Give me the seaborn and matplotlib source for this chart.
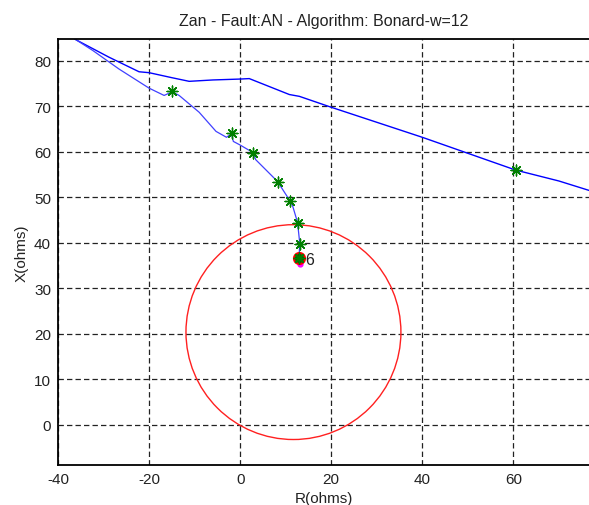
import matplotlib
matplotlib.use("Agg")
import matplotlib.pyplot as plt
import seaborn as sns
import pandas as pd
from matplotlib.patches import Circle

# ---- data ----
upper_r = [-38, -36, -28.8, -22.2, -20, -15, -11.2, -6, 0, 2, 10.8, 13, 20, 40, 60.5, 70, 78]
upper_x = [86, 84.6, 80.8, 77.6, 77.4, 76.3, 75.5, 75.8, 76.0, 76.1, 72.6, 72.2, 69.8, 63.2, 56.0, 53.6, 51.1]

lower_r = [-38, -36, -32.4, -26.6, -20, -16.7, -14.9, -13.4, -9, -5.3, -3, -1.9, -1.5, 0,
           2.9, 3.4, 8.2, 10.9, 11.5, 12.6, 13.1, 12.9]
lower_x = [86, 84.6, 82.3, 78.2, 74.0, 72.4, 73.2, 72.4, 68.7, 64.5, 63.2, 64.0, 62.3, 61.5,
           59.8, 58.3, 53.5, 49.3, 48.2, 44.5, 39.8, 36.6]

star_r = [-14.9, -1.9, 2.9, 8.2, 10.9, 12.6, 13.1, 12.9, 60.5]
star_x = [73.3, 64.1, 59.8, 53.4, 49.3, 44.4, 39.7, 36.7, 56.1]

final_r = [12.9]
final_x = [36.6]
mag_r = [13.1]
mag_x = [35.3]
label_text = "6"

circle_center = (11.7, 20.4)
circle_radius = 23.6

xticks = [-40, -20, 0, 20, 40, 60]
yticks = [0, 10, 20, 30, 40, 50, 60, 70, 80]

title = "Zan - Fault:AN - Algorithm: Bonard-w=12"

# ---- style ----
sns.set_style("white")
plt.rcParams["font.family"] = ["Liberation Sans", "DejaVu Sans"]
plt.rcParams["axes.unicode_minus"] = False

fig = plt.figure(figsize=(5.89, 5.06), dpi=100)
ax = fig.add_axes([58 / 589, (506 - 466) / 506, (589 - 58) / 589, (466 - 40) / 506])

df_up = pd.DataFrame({"R": upper_r, "X": upper_x})
df_lo = pd.DataFrame({"R": lower_r, "X": lower_x})
sns.lineplot(data=df_up, x="R", y="X", sort=False, estimator=None, color="#0000ff", lw=1.0, ax=ax)
sns.lineplot(data=df_lo, x="R", y="X", sort=False, estimator=None, color="#4040ff", lw=0.9, ax=ax)

ax.add_patch(Circle(circle_center, circle_radius, fill=False, edgecolor="#ff2020", lw=1.0, zorder=3))

ax.plot(final_r, final_x, linestyle="none", marker="o", ms=8, mfc="#006000",
        mec="#ff0000", mew=1.5, zorder=5)
ax.plot(mag_r, mag_x, linestyle="none", marker="o", ms=3.5, mfc="#ff00ff",
        mec="#ff00ff", zorder=4)
df_st = pd.DataFrame({"R": star_r, "X": star_x})
sns.scatterplot(data=df_st, x="R", y="X", marker=(8, 2, 0), s=60, color="#008000",
                edgecolor="#008000", linewidth=1.0, zorder=6, ax=ax)
ax.text(final_r[0] + 1.3, final_x[0] - 0.3, label_text, fontsize=11.5, va="center", ha="left",
        color="#222222", zorder=7)

ax.set_xlim(-40, 76.6)
ax.set_ylim(-8.8, 84.8)
ax.set_xticks(xticks)
ax.set_yticks(yticks)
ax.tick_params(axis="both", length=0, labelsize=11, pad=5, colors="#222222")
ax.tick_params(axis="y", pad=5)
ax.grid(True, color="#222222", linestyle=(0, (4.3, 2.5)), linewidth=0.9)
ax.set_axisbelow(True)

for s in ["left", "bottom", "top"]:
    ax.spines[s].set_visible(True)
    ax.spines[s].set_color("black")
    ax.spines[s].set_linewidth(1.3)
ax.spines["right"].set_visible(False)

ax.set_xlabel("R(ohms)", fontsize=11, labelpad=4, color="#222222")
ax.set_ylabel("X(ohms)", fontsize=11, labelpad=4, color="#222222")
ax.set_title(title, fontsize=11.5, pad=10, color="#222222")

fig.savefig("out.png", dpi=100)
